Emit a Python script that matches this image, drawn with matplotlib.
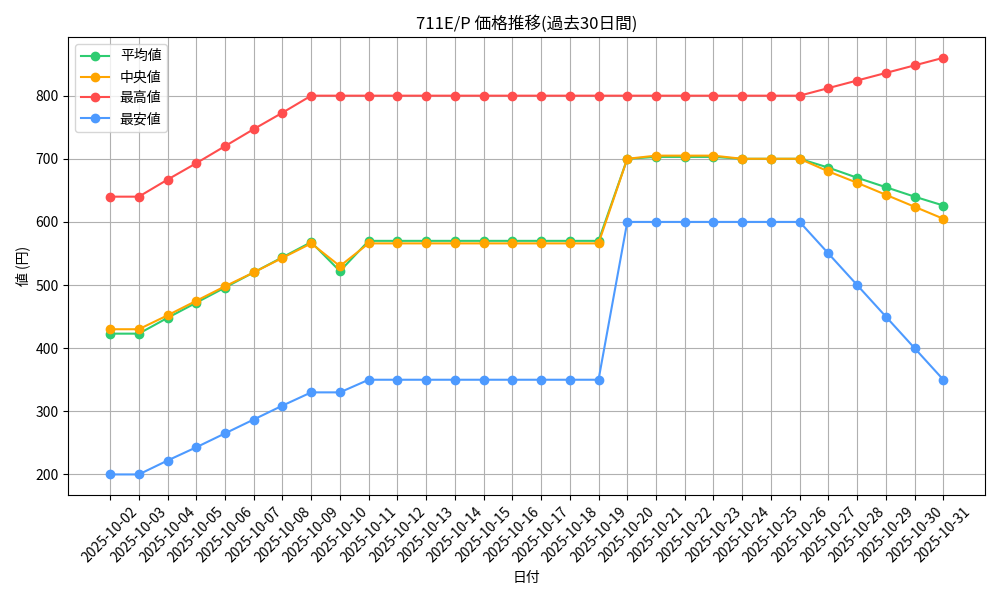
import matplotlib
matplotlib.use("Agg")
import matplotlib.pyplot as plt

plt.rcParams["font.family"] = ["Noto Sans CJK JP", "DejaVu Sans"]

# Data
dates = [f"2025-10-{d:02d}" for d in range(2, 32)]

avg_vals = [423, 423, 448, 472, 496, 520, 544, 568, 522, 570,
            570, 570, 570, 570, 570, 570, 570, 570, 700, 703,
            703, 703, 700, 700, 700, 686, 670, 655, 640, 626]
med_vals = [430, 430, 452, 475, 498, 520, 543, 566, 530, 566,
            566, 566, 566, 566, 566, 566, 566, 566, 700, 705,
            705, 705, 700, 700, 700, 680, 662, 643, 624, 605]
max_vals = [640, 640, 667, 693, 720, 747, 773, 800, 800, 800,
            800, 800, 800, 800, 800, 800, 800, 800, 800, 800,
            800, 800, 800, 800, 800, 812, 824, 836, 848, 860]
min_vals = [200, 200, 222, 243, 265, 287, 309, 330, 330, 350,
            350, 350, 350, 350, 350, 350, 350, 350, 600, 600,
            600, 600, 600, 600, 600, 550, 500, 450, 400, 350]

fig, ax = plt.subplots(figsize=(10, 6), dpi=100)

ax.plot(dates, avg_vals, marker="o", color="#2ecc71", label="平均値")
ax.plot(dates, med_vals, marker="o", color="#ffa500", label="中央値")
ax.plot(dates, max_vals, marker="o", color="#ff4d4d", label="最高値")
ax.plot(dates, min_vals, marker="o", color="#4d9aff", label="最安値")

ax.set_title("711E/P 価格推移(過去30日間)")
ax.set_xlabel("日付")
ax.set_ylabel("値 (円)")
ax.grid(True)
ax.legend(loc="upper left")
plt.xticks(rotation=45)

plt.tight_layout()
plt.savefig("out.png")
